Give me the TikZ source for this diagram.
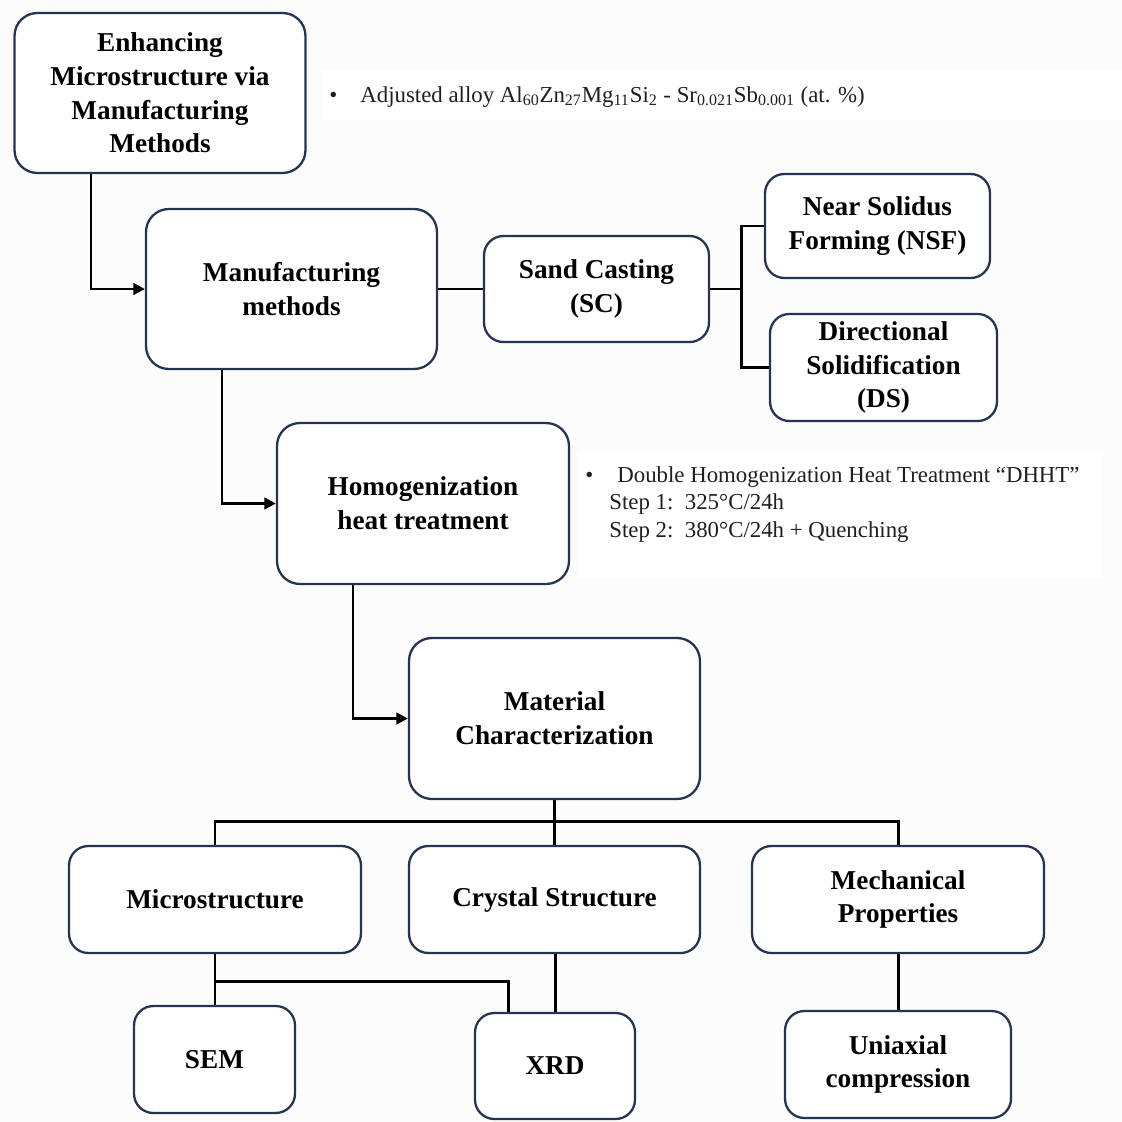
\documentclass[tikz,border=0pt]{standalone}
\usepackage{fontspec}
\setmainfont{Liberation Serif}
\usetikzlibrary{arrows.meta}
\definecolor{boxline}{RGB}{38,52,84}
\definecolor{pagebg}{RGB}{252,252,252}
\begin{document}
\begin{tikzpicture}[x=0.02cm,y=-0.02cm,
  box/.style={draw=boxline, line width=1.3pt, rounded corners=13pt, fill=white,
    align=center, inner sep=2pt,
    font=\fontsize{15.5}{19.2}\selectfont\bfseries},
  link/.style={line width=1.7pt, black},
  arr/.style={link, -{Triangle[length=6.5pt,width=6.5pt]}},
  note/.style={anchor=west, inner sep=0pt,
    font=\fontsize{13}{15.9}\selectfont, text=black!88}]
% page and note panels
\fill[pagebg] (0,0) rectangle (1122,1122);
\useasboundingbox (0,0) rectangle (1122,1122);
\fill[white] (322,70) rectangle (1122,120);
\fill[white] (578,452) rectangle (1103,578);

% boxes
\node[box, minimum width=5.82cm, minimum height=3.2cm] (enh) at (160,93)
  {Enhancing\\Microstructure via\\Manufacturing\\Methods};
\node[box, minimum width=5.82cm, minimum height=3.2cm] (man) at (291.5,289)
  {Manufacturing\\methods};
\node[box, minimum width=4.5cm, minimum height=2.12cm, rounded corners=11pt] (sc) at (596.5,289)
  {Sand Casting\\(SC)};
\node[box, minimum width=4.5cm, minimum height=2.08cm, rounded corners=11pt] (nsf) at (877.5,226)
  {Near Solidus\\Forming (NSF)};
\node[box, minimum width=4.54cm, minimum height=2.14cm, rounded corners=11pt] (ds) at (883.5,367.5)
  {Directional\\Solidification\\(DS)};
\node[box, minimum width=5.84cm, minimum height=3.22cm] (hom) at (423,503.5)
  {Homogenization\\heat treatment};
\node[box, minimum width=5.82cm, minimum height=3.22cm] (mat) at (554.5,718.5)
  {Material\\Characterization};
\node[box, minimum width=5.84cm, minimum height=2.14cm, rounded corners=11pt] (mic) at (215,899.5)
  {Microstructure};
\node[box, minimum width=5.82cm, minimum height=2.14cm, rounded corners=11pt] (cry) at (554.5,899.5)
  {Crystal Structure};
\node[box, minimum width=5.84cm, minimum height=2.14cm, rounded corners=11pt] (mec) at (898,899.5)
  {Mechanical\\Properties};
\node[box, minimum width=3.22cm, minimum height=2.14cm, rounded corners=11pt] (sem) at (214.5,1059.5)
  {SEM};
\node[box, minimum width=3.2cm, minimum height=2.12cm, rounded corners=11pt] (xrd) at (555,1066)
  {XRD};
\node[box, minimum width=4.52cm, minimum height=2.14cm, rounded corners=11pt] (uni) at (898,1064.5)
  {Uniaxial\\compression};

% notes
\node[note] (b1) at (329,97) {•};
\node[note] (alloy) at (360,97)
  {Adjusted alloy Al\textsubscript{60}Zn\textsubscript{27}Mg\textsubscript{11}Si\textsubscript{2} - Sr\textsubscript{0.021}Sb\textsubscript{0.001} (at. \%)};
\node[note] (b2) at (585,477) {•};
\node[note] (dhht) at (617,477) {Double Homogenization Heat Treatment “DHHT”};
\node[note] (st1) at (609,504) {Step 1:\ \ 325°C/24h};
\node[note] (st2) at (609,532) {Step 2:\ \ 380°C/24h + Quenching};

% junction points
\coordinate (jsc) at (741,289);
\coordinate (jmat) at (554.5,821);
\coordinate (jmic) at (215,981);

% connectors
\draw[arr] (enh.south -| 91,0) |- (man.west);
\draw[link] (man.east) -- (sc.west);
\draw[link] (sc.east) -- (jsc);
\draw[link] (nsf.west) -| (jsc) |- (ds.west);
\draw[arr] (man.south -| 222,0) |- (hom.west);
\draw[arr] (hom.south -| 353,0) |- (mat.west);
\draw[link] (mat.south) -- (jmat);
\draw[link] (mic.north) |- (jmat) -| (mec.north);
\draw[link] (jmat) -- (cry.north);
\draw[link] (mic.south) -- (jmic) -- (sem.north -| jmic);
\draw[link] (jmic) -| (xrd.north -| 508,0);
\draw[link] (cry.south -| xrd.north) -- (xrd.north);
\draw[link] (mec.south) -- (uni.north);
\end{tikzpicture}
\end{document}
